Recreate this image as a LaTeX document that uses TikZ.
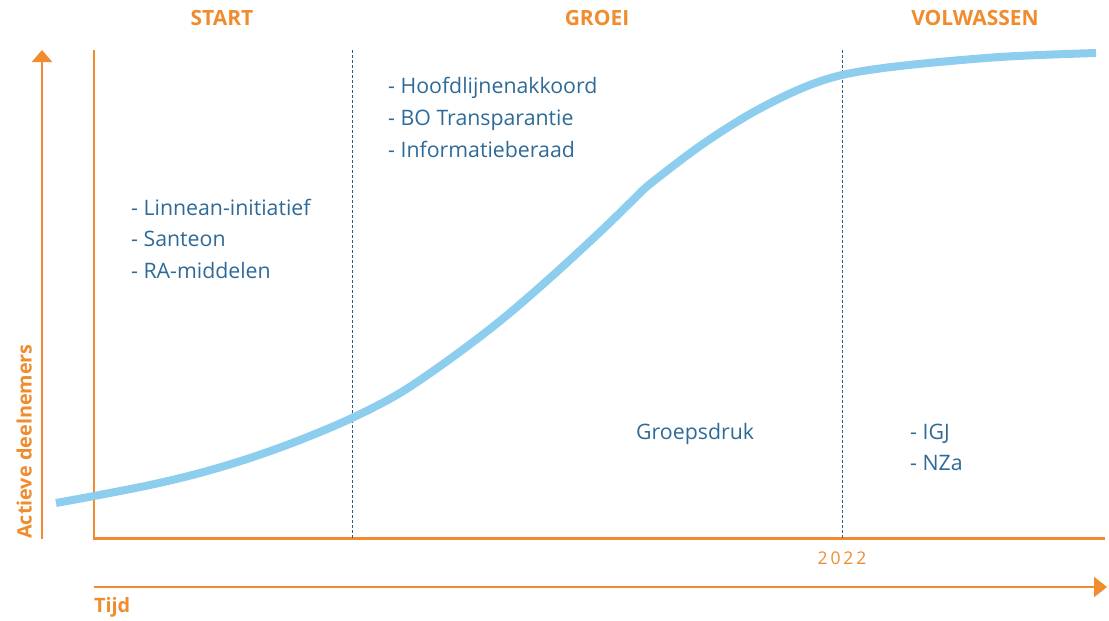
\documentclass[tikz,border=0pt]{standalone}
\usepackage{fontspec}
\setmainfont{Open Sans}
\usetikzlibrary{arrows.meta}
\definecolor{ora}{HTML}{F08C2E}
\definecolor{txtblue}{HTML}{2E6A98}
\definecolor{dashblue}{HTML}{2B5F8A}
\definecolor{curveblue}{HTML}{8DCDEE}
\begin{document}
\begin{tikzpicture}[x=1pt,y=-1pt,
  phase/.style={text=ora,font=\fontsize{21}{24}\selectfont\bfseries,anchor=center},
  axislabel/.style={text=ora,font=\fontsize{19.8}{22}\selectfont\bfseries},
  item/.style={text=txtblue,font=\fontsize{21.3}{24}\selectfont,anchor=base west,inner sep=0pt},
  axisline/.style={draw=ora,line width=2.5pt},
  divider/.style={draw=dashblue,line width=0.8pt,dash pattern=on 3pt off 2pt}]
\useasboundingbox (0,0) rectangle (1109,621);
% coordinates
\coordinate (ybot) at (42,539);
\coordinate (ytop) at (42,50);
\coordinate (itop) at (94,50);
\coordinate (origin) at (94,538.5);
\coordinate (xend) at (1105,538.5);
\coordinate (tstart) at (94,587);
\coordinate (tend) at (1107,587);
\coordinate (d1top) at (352,50);
\coordinate (d1bot) at (352,538);
\coordinate (d2top) at (842,50);
\coordinate (d2bot) at (842,538);
% axes
\draw[axisline,-{Triangle[width=20pt,length=12pt]}] (ybot) -- (ytop);
\draw[axisline] (itop) -- (origin) -- (xend);
\draw[axisline,-{Triangle[width=20pt,length=13pt]}] (tstart) -- (tend);
% dividers
\draw[divider] (d1top) -- (d1bot);
\draw[divider] (d2top) -- (d2bot);
% curve
\draw[curveblue,line width=8pt] plot[smooth,tension=0.55] coordinates {
 (56,503) (94,496) (150,485) (200,473) (250,458) (300,440) (352,418)
 (400,393) (450,359) (500,321) (550,278) (600,232) (633,200) (650,184) (700,146)
 (750,114) (800,89) (842,75) (900,66) (1000,57) (1096,53)};
% labels
\node[phase] (start) at (222,18) {START};
\node[phase] (groei) at (597,18) {GROEI};
\node[phase] (vol) at (975,18) {VOLWASSEN};
\node[axislabel,rotate=90,anchor=south west,inner sep=0pt] (yl) at (32,539) {Actieve deelnemers};
\node[axislabel,anchor=west,inner sep=0pt] (tijd) at (94,607) {Tijd};
\node[text=ora,font=\fontsize{17.5}{20}\selectfont] (year) at (842,558) {2\,0\,2\,2};
\node[item] (l1a) at (131,215) {- Linnean-initiatief};
\node[item] (l1b) at (131,246.5) {- Santeon};
\node[item] (l1c) at (131,278) {- RA-middelen};
\node[item] (l2a) at (388,93) {- Hoofdlijnenakkoord};
\node[item] (l2b) at (388,125) {- BO Transparantie};
\node[item] (l2c) at (388,157) {- Informatieberaad};
\node[item] (l3) at (636,439) {Groepsdruk};
\node[item] (l4a) at (910,439) {- IGJ};
\node[item] (l4b) at (910,470) {- NZa};
\end{tikzpicture}
\end{document}
